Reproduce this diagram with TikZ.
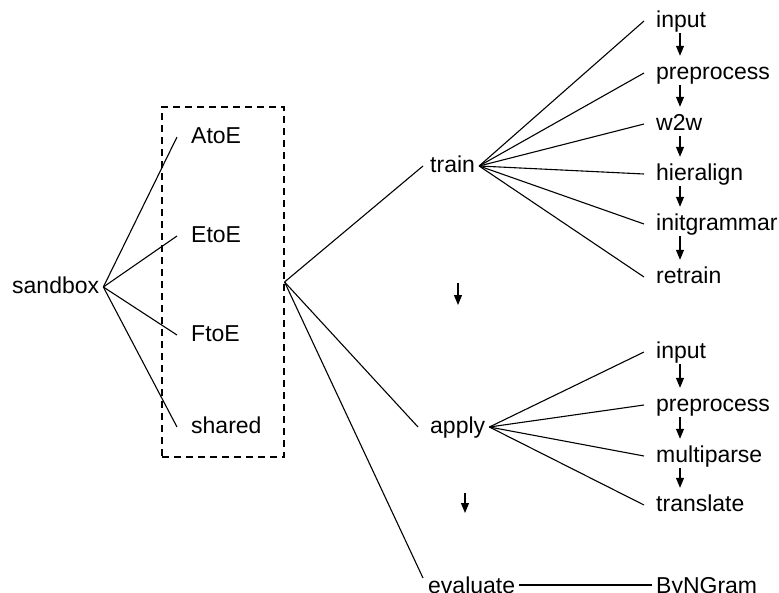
\documentclass[tikz,border=0pt]{standalone}
\usepackage{fontspec}
\setmainfont{Liberation Sans}
\usetikzlibrary{arrows.meta}
\begin{document}
\begin{tikzpicture}[x=1pt,y=-1pt,
  lbl/.style={anchor=base west, inner xsep=4pt, inner ysep=0pt,
              text height=15pt, text depth=3pt,
              font=\fontsize{23}{27}\selectfont},
  link/.style={line width=1.1pt},
  flow/.style={line width=1.1pt, -{Triangle[length=10pt,width=8pt]}},
  chain/.style={flow, shorten <=3pt, shorten >=8pt},
  group/.style={draw, line width=1.1pt, dash pattern=on 7pt off 5pt}]
\clip (0,0) rectangle (779,592);

% root and the dashed group of language pairs
\node[lbl] (sandbox) at (8,293) {sandbox};
\node[group, minimum width=122pt, minimum height=350pt, inner sep=0pt] (box) at (223,282) {};
\node[lbl] (atoe)   at (187,143) {AtoE};
\node[lbl] (etoe)   at (187,242) {EtoE};
\node[lbl] (ftoe)   at (187,341) {FtoE};
\node[lbl] (shared) at (187,433) {shared};

\foreach \n in {atoe,etoe,ftoe,shared}
  \draw[link] (sandbox.east) -- ([xshift=-10pt]\n.west);

% stages
\node[lbl] (train)    at (426,172) {train};
\node[lbl] (apply)    at (426,433) {apply};
\node[lbl] (evaluate) at (424,593) {evaluate};
\node[lbl] (byngram)  at (652,593) {ByNGram};

\draw[link] (box.east) -- ([xshift=-3pt]train.west);
\draw[link] (box.east) -- ([xshift=-8pt]apply.west);
\draw[link] (box.east) -- ([xshift=-1pt,yshift=9pt]evaluate.west);
\draw[link] ([yshift=2pt]evaluate.east) -- ([yshift=2pt]byngram.west);

% training steps
\node[lbl] (tin)   at (652,27)  {input};
\node[lbl] (tpre)  at (652,79)  {preprocess};
\node[lbl] (tw2w)  at (652,130) {w2w};
\node[lbl] (thier) at (652,180) {hieralign};
\node[lbl] (tinit) at (652,230) {initgrammar};
\node[lbl] (tret)  at (652,283) {retrain};

\foreach \n in {tin,tpre,tw2w,thier,tinit,tret}
  \draw[link] (train.east) -- ([xshift=-8pt]\n.west);

% application steps
\node[lbl] (ain)    at (652,358) {input};
\node[lbl] (apre)   at (652,411) {preprocess};
\node[lbl] (amulti) at (652,462) {multiparse};
\node[lbl] (atrans) at (652,511) {translate};

\foreach \n in {ain,apre,amulti,atrans}
  \draw[link] (apply.east) -- ([xshift=-8pt]\n.west);

% step order
\coordinate (ax) at (680,0);
\draw[chain] (tin.south -| ax)   -- (tpre.north -| ax);
\draw[chain] (tpre.south -| ax)  -- (tw2w.north -| ax);
\draw[chain] (tw2w.south -| ax)  -- (thier.north -| ax);
\draw[chain] (thier.south -| ax) -- (tinit.north -| ax);
\draw[chain] (tinit.south -| ax) -- (tret.north -| ax);
\draw[chain] (ain.south -| ax)   -- (apre.north -| ax);
\draw[chain] (apre.south -| ax)  -- (amulti.north -| ax);
\draw[chain] (amulti.south -| ax) -- (atrans.north -| ax);

% order between stages
\coordinate (s1a) at (458,283);
\coordinate (s1b) at (458,305);
\coordinate (s2a) at (465,493);
\coordinate (s2b) at (465,513);
\draw[flow] (s1a) -- (s1b);
\draw[flow] (s2a) -- (s2b);
\end{tikzpicture}
\end{document}
